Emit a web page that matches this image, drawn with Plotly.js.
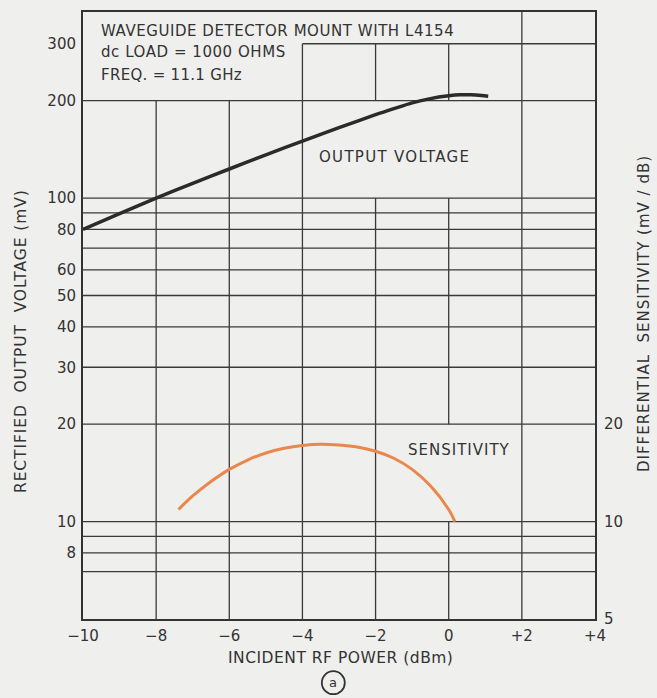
<!DOCTYPE html>
<html>
<head>
<meta charset="utf-8">
<script src="https://cdn.plot.ly/plotly-3.0.1.min.js"></script>
<style>html,body{margin:0;padding:0;background:#efefed;}</style>
</head>
<body>
<div id="chart" style="width:657px;height:698px;"></div>
<script>
// Output voltage curve (mV) vs incident RF power (dBm)
const powerVolt = [-10, -9, -8, -7, -6, -5, -4, -3, -2, -1.5, -1, -0.5, 0, 0.3, 0.6, 0.9, 1.08];
const outputVolt = [80, 89.5, 100, 111, 123, 136, 150, 165, 181, 189, 197, 203, 207, 208.5, 208.5, 207.5, 206.5];

// Differential sensitivity curve (mV/dB)
const powerSens = [-7.39, -7, -6.5, -6, -5.5, -5, -4.5, -4, -3.5, -3, -2.5, -2, -1.5, -1, -0.5, 0, 0.17];
const sensitivity = [10.9, 12.0, 13.3, 14.5, 15.5, 16.3, 16.85, 17.2, 17.35, 17.25, 17.0, 16.5, 15.7, 14.5, 12.9, 10.9, 10.0];

// Axis ticks
const xTickVals = [-10, -8, -6, -4, -2, 0, 2, 4];
const xTickText = ["\u221210", "\u22128", "\u22126", "\u22124", "\u22122", "0", "+2", "+4"];
const yLeftTicks = [8, 10, 20, 30, 40, 50, 60, 80, 100, 200, 300];
const yRightTicks = [5, 10, 20];

// Grid segments (axis coordinates)
const hGridFull = [7, 8, 9, 10, 20, 30, 40, 50, 60, 70, 80, 90, 100, 200];
const hGridPartial = [{y: 300, x0: -4, x1: 4}];
const vGrid = [
  {x: -8, spans: [[5, 200]]},
  {x: -6, spans: [[5, 200]]},
  {x: -4, spans: [[5, 300]]},
  {x: -2, spans: [[5, 100], [200, 300]]},
  {x: 0, spans: [[5, 10], [20, 100], [200, 300]]},
  {x: 2, spans: [[5, 376]]}
];

const yRange = [Math.log10(5), Math.log10(376)];
const ink = '#333333';
const gridColor = '#3a3a3a';
const font = 'DejaVu Sans, Liberation Sans, sans-serif';
const ls = (t, px) => '<span style="letter-spacing:' + px + 'px">' + t + '</span>';

const shapes = [];
hGridFull.forEach(v => shapes.push({type: 'line', xref: 'x', yref: 'y', x0: -10, x1: 4, y0: v, y1: v, line: {color: gridColor, width: 1.3}, layer: 'below'}));
hGridPartial.forEach(g => shapes.push({type: 'line', xref: 'x', yref: 'y', x0: g.x0, x1: g.x1, y0: g.y, y1: g.y, line: {color: gridColor, width: 1.3}, layer: 'below'}));
vGrid.forEach(g => g.spans.forEach(s => shapes.push({type: 'line', xref: 'x', yref: 'y', x0: g.x, x1: g.x, y0: s[0], y1: s[1], line: {color: gridColor, width: 1.3}, layer: 'below'})));
// circled "a" under the axis title
shapes.push({type: 'circle', xref: 'paper', yref: 'paper', xsizemode: 'pixel', ysizemode: 'pixel',
  xanchor: 0.4889, yanchor: -0.1049, x0: -11.5, x1: 11.5, y0: -11.5, y1: 11.5, line: {color: ink, width: 1.8}});

const traces = [
  {x: powerVolt, y: outputVolt, type: 'scatter', mode: 'lines', line: {color: '#2b2b2b', width: 3.5, shape: 'spline', smoothing: 0.8}, xaxis: 'x', yaxis: 'y', hoverinfo: 'x+y', name: 'Output voltage'},
  {x: powerSens, y: sensitivity, type: 'scatter', mode: 'lines', line: {color: '#e9874c', width: 3, shape: 'spline', smoothing: 0.8}, xaxis: 'x', yaxis: 'y2', hoverinfo: 'x+y', name: 'Sensitivity'}
];

const annFont = {family: font, size: 15, color: ink};
const titleFont = {family: font, size: 15.5, color: ink};
const tickFont = {family: font, size: 15, color: ink};
const layout = {
  width: 657, height: 698,
  margin: {l: 83, r: 62, t: 12, b: 79},
  paper_bgcolor: '#efefed', plot_bgcolor: '#efefed',
  showlegend: false,
  font: {family: font, color: ink},
  xaxis: {
    range: [-10, 4], tickvals: xTickVals, ticktext: xTickText,
    showgrid: false, zeroline: false, showline: true, mirror: true,
    linecolor: ink, linewidth: 2, ticks: '', ticklabelstandoff: 2,
    tickfont: tickFont
  },
  yaxis: {
    type: 'log', range: yRange, tickvals: yLeftTicks, ticktext: yLeftTicks.map(String),
    showgrid: false, zeroline: false, showline: true, mirror: true,
    linecolor: ink, linewidth: 2, ticks: '', ticklabelstandoff: 2,
    tickfont: tickFont
  },
  yaxis2: {
    type: 'log', range: yRange, overlaying: 'y', side: 'right',
    tickvals: yRightTicks, ticktext: yRightTicks.map(String),
    showgrid: false, zeroline: false, showline: false, ticks: '', ticklabelstandoff: 8,
    tickfont: tickFont
  },
  shapes: shapes,
  annotations: [
    {xref: 'paper', yref: 'paper', x: 0.0318, y: 0.9695, xanchor: 'left', yanchor: 'middle', showarrow: false, text: ls('WAVEGUIDE DETECTOR MOUNT WITH L4154', 0.55), font: annFont},
    {xref: 'paper', yref: 'paper', x: 0.0318, y: 0.9333, xanchor: 'left', yanchor: 'middle', showarrow: false, text: ls('dc LOAD = 1000 OHMS', 0.55), font: annFont},
    {xref: 'paper', yref: 'paper', x: 0.0318, y: 0.8967, xanchor: 'left', yanchor: 'middle', showarrow: false, text: ls('FREQ. = 11.1 GHz', 0.3), font: annFont},
    {xref: 'paper', yref: 'paper', x: 0.4564, y: 0.7616, xanchor: 'left', yanchor: 'middle', showarrow: false, text: ls('OUTPUT VOLTAGE', 1.3), font: annFont},
    {xref: 'paper', yref: 'paper', x: 0.6309, y: 0.2784, xanchor: 'left', yanchor: 'middle', showarrow: false, text: ls('SENSITIVITY', 1.0), font: annFont},
    {xref: 'paper', yref: 'paper', x: 0.502, y: -0.0643, xanchor: 'center', yanchor: 'middle', showarrow: false, text: ls('INCIDENT RF POWER (dBm)', 0.5), font: titleFont},
    {xref: 'paper', yref: 'paper', x: -0.1211, y: 0.458, xanchor: 'center', yanchor: 'middle', textangle: -90, showarrow: false, text: ls('RECTIFIED  OUTPUT  VOLTAGE (mV)', 0.9), font: titleFont},
    {xref: 'paper', yref: 'paper', x: 1.0957, y: 0.5041, xanchor: 'center', yanchor: 'middle', textangle: -90, showarrow: false, text: ls('DIFFERENTIAL  SENSITIVITY (mV / dB)', 1.0), font: {family: font, size: 15, color: ink}},
    {xref: 'paper', yref: 'paper', x: 0.4889, y: -0.1049, xanchor: 'center', yanchor: 'middle', showarrow: false, text: 'a', font: {family: font, size: 13, color: ink}}
  ]
};

Plotly.newPlot('chart', traces, layout, {displayModeBar: false, staticPlot: true});
</script>
</body>
</html>
